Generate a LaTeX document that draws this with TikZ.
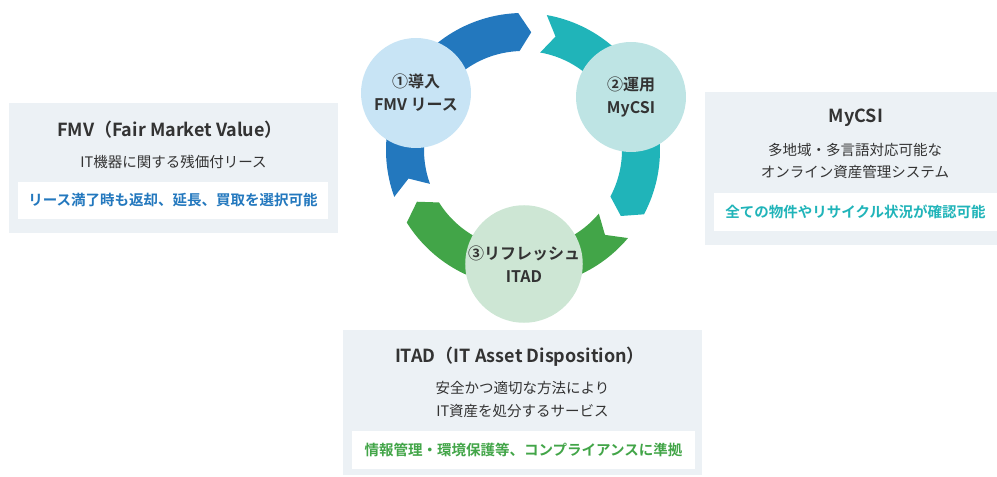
\documentclass[tikz,border=0pt]{standalone}
\usepackage{fontspec}
\setmainfont{Noto Sans CJK JP}[BoldFont={Noto Sans CJK JP Bold}]
\usepackage{xcolor}
\usepackage{tikz}

\definecolor{ringblue}{HTML}{2378BE}
\definecolor{ringteal}{HTML}{20B4B9}
\definecolor{ringgreen}{HTML}{42A548}
\definecolor{softblue}{HTML}{C8E4F5}
\definecolor{softteal}{HTML}{BEE4E4}
\definecolor{softgreen}{HTML}{CDE6D4}
\definecolor{panelbg}{HTML}{ECF1F5}
\definecolor{inkgray}{HTML}{333333}

\tikzset{
  stage/.style={circle, minimum size=110pt, inner sep=0pt, align=center,
    text=inkgray, font=\bfseries\fontsize{16}{23}\selectfont},
  paneltitle/.style={text=inkgray, font=\bfseries\fontsize{18}{22}\selectfont},
  paneltext/.style={text=inkgray, align=center, font=\fontsize{14.5}{22.5}\selectfont},
  panelnote/.style={fill=white, inner sep=0pt, font=\bfseries\fontsize{14.5}{20}\selectfont}
}

\begin{document}
\begin{tikzpicture}[x=1pt, y=1pt]
  \useasboundingbox (0,0) rectangle (997,477);

  % Anneau : trois fleches en arc
  \begin{scope}[shift={(523,327)}]
    \fill[ringblue] (200:137) arc[start angle=200, end angle=92, radius=137pt]
      -- (86:118) -- (92:99) arc[start angle=92, end angle=200, radius=99pt]
      -- (194:118) -- cycle;
    \fill[ringteal, rotate=-120] (200:137) arc[start angle=200, end angle=92, radius=137pt]
      -- (86:118) -- (92:99) arc[start angle=92, end angle=200, radius=99pt]
      -- (194:118) -- cycle;
    \fill[ringgreen, rotate=-240] (200:137) arc[start angle=200, end angle=92, radius=137pt]
      -- (86:118) -- (92:99) arc[start angle=92, end angle=200, radius=99pt]
      -- (194:118) -- cycle;
  \end{scope}

  % Etapes
  \node[stage, fill=softblue] (intro) at (416,384) {①導入\\FMV リース};
  \node[stage, fill=softteal] (operate) at (631,380) {②運用\\MyCSI};
  \node[stage, fill=softgreen, minimum size=108pt] (refresh) at (524,213) {③リフレッシュ\\ITAD};

  % Encadre FMV
  \fill[panelbg] (9,244) rectangle (338,374);
  \node[paneltitle] (fmvtitle) at (170,347) {FMV（Fair Market Value）};
  \node[paneltext] (fmvtext) at (173.5,315) {IT機器に関する残価付リース};
  \node[panelnote, text=ringblue, minimum width=310pt, minimum height=37pt]
    (fmvnote) at (173,276.5) {リース満了時も返却、延長、買取を選択可能};

  % Encadre MyCSI
  \fill[panelbg] (705,232) rectangle (997,385);
  \node[paneltitle] (mycsititle) at (856,359) {MyCSI};
  \node[paneltext] (mycsitext) at (855,316) {多地域・多言語対応可能な\\オンライン資産管理システム};
  \node[panelnote, text=ringteal, minimum width=283pt, minimum height=38pt]
    (mycsinote) at (855.5,265) {全ての物件やリサイクル状況が確認可能};

  % Encadre ITAD
  \fill[panelbg] (343,2) rectangle (702,147);
  \node[paneltitle] (itadtitle) at (520,120) {ITAD（IT Asset Disposition）};
  \node[paneltext] (itadtext) at (522.5,77.5) {安全かつ適切な方法により\\IT資産を処分するサービス};
  \node[panelnote, text=ringgreen, minimum width=343pt, minimum height=38pt]
    (itadnote) at (523.5,27) {情報管理・環境保護等、コンプライアンスに準拠};
\end{tikzpicture}
\end{document}
